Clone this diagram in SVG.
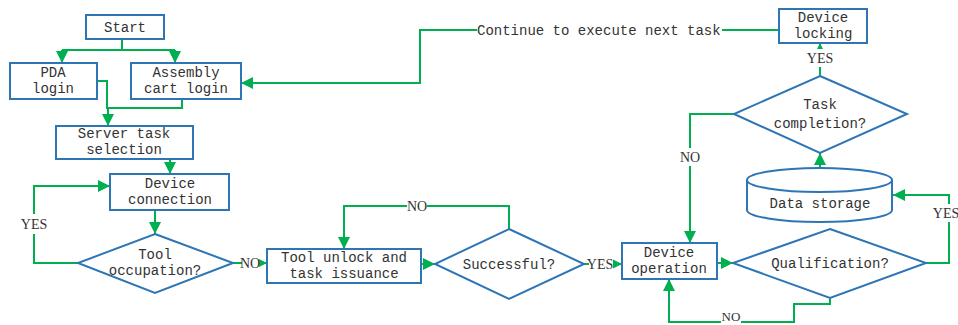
<svg xmlns="http://www.w3.org/2000/svg" width="958" height="325" viewBox="0 0 958 325">
<defs>
<marker id="ah" markerUnits="userSpaceOnUse" markerWidth="12" markerHeight="12" viewBox="0 0 10 10" refX="10" refY="5" orient="auto">
<path d="M0,0 L10,5 L0,10 z" fill="#00B050"/>
</marker>
<style>
.box{fill:#fff;stroke:#2E75B6;stroke-width:2}
.ln{fill:none;stroke:#00B050;stroke-width:2}
.arr{fill:none;stroke:#00B050;stroke-width:2;marker-end:url(#ah)}
.t{font-family:"Liberation Mono","DejaVu Sans Mono",monospace;font-size:14px;fill:#333;text-anchor:middle}
.lb{font-family:"Liberation Serif","DejaVu Serif",serif;font-size:14px;fill:#333;text-anchor:middle}
.bg{fill:#fff}
</style>
</defs>
<rect width="958" height="325" fill="#fff"/>
<g id="connectors">
<path class="ln" d="M122,39 V50 M62,50 H175"/>
<path class="arr" d="M62,50 V63"/>
<path class="arr" d="M175,50 V63"/>
<path class="ln" d="M97,81 H107 V108 H182 V99"/>
<path class="arr" d="M108,108 V126"/>
<path class="arr" d="M170,159 V174"/>
<path class="arr" d="M155,210 V234"/>
<path class="arr" d="M78,263 H34 V186 H110"/>
<path class="arr" d="M233,263 H267"/>
<path class="arr" d="M421,264 H435"/>
<path class="arr" d="M509,229 V206 H344 V249"/>
<path class="arr" d="M584,264 H622"/>
<path class="arr" d="M717,263 H733"/>
<path class="arr" d="M926,263 H949 V195 H893"/>
<path class="arr" d="M830,298 V304 H794 V322 H669 V279"/>
<path class="arr" d="M820,168 V153"/>
<path class="arr" d="M820,76 V43"/>
<path class="arr" d="M734,114 H690 V243"/>
<path class="ln" d="M779,30 H722"/>
<path class="arr" d="M477,30 H420 V83 H241"/>
<rect class="bg" x="22" y="214" width="24" height="20"/>
<text class="lb" x="34" y="229">YES</text>
<rect class="bg" x="242" y="255" width="17" height="17"/>
<text class="lb" x="250" y="268">NO</text>
<rect class="bg" x="407" y="198" width="20" height="16"/>
<text class="lb" x="417" y="211">NO</text>
<rect class="bg" x="589" y="256" width="24" height="17"/>
<text class="lb" x="600" y="269">YES</text>
<rect class="bg" x="682" y="148" width="17" height="18"/>
<text class="lb" x="690" y="162">NO</text>
<rect class="bg" x="808" y="49" width="24" height="18"/>
<text class="lb" x="820" y="63">YES</text>
<rect class="bg" x="934" y="204" width="24" height="18"/>
<text class="lb" x="946" y="218">YES</text>
<rect class="bg" x="721" y="313" width="20" height="12"/>
<text class="lb" x="731" y="321" style="font-size:13px">NO</text>
</g>
<g id="start"><rect class="box" x="86" y="15" width="78" height="24"/><text class="t" x="125" y="32">Start</text></g>
<g id="pda"><rect class="box" x="10" y="63" width="87" height="36"/><text class="t" x="53" y="77">PDA</text><text class="t" x="53" y="93">login</text></g>
<g id="assembly"><rect class="box" x="131" y="63" width="110" height="36"/><text class="t" x="186" y="77">Assembly</text><text class="t" x="186" y="93">cart login</text></g>
<g id="server"><rect class="box" x="56" y="126" width="137" height="33"/><text class="t" x="124" y="138">Server task</text><text class="t" x="124" y="154">selection</text></g>
<g id="devconn"><rect class="box" x="110" y="174" width="119" height="36"/><text class="t" x="170" y="188">Device</text><text class="t" x="170" y="204">connection</text></g>
<g id="toolocc"><path class="box" d="M155,234 L233,263 L155,293 L78,263 Z"/><text class="t" x="155" y="259">Tool</text><text class="t" x="155" y="275">occupation?</text></g>
<g id="toolunlock"><rect class="box" x="267" y="249" width="154" height="34"/><text class="t" x="344" y="262">Tool unlock and</text><text class="t" x="344" y="278">task issuance</text></g>
<g id="successful"><path class="box" d="M509,229 L584,264 L509,299 L435,264 Z"/><text class="t" x="509" y="269">Successful?</text></g>
<g id="devop"><rect class="box" x="622" y="243" width="95" height="36"/><text class="t" x="669" y="257">Device</text><text class="t" x="669" y="273">operation</text></g>
<g id="qualification"><path class="box" d="M830,229 L926,263 L830,298 L733,263 Z"/><text class="t" x="830" y="268">Qualification?</text></g>
<g id="datastorage"><path class="box" d="M747,180 V210 A72.5,12 0 0 0 892,210 V180"/><ellipse class="box" cx="819.5" cy="180" rx="72.5" ry="12"/><text class="t" x="820" y="208">Data storage</text></g>
<g id="taskcompletion"><path class="box" d="M820,76 L907,114 L820,153 L734,114 Z"/><text class="t" x="820" y="109">Task</text><text class="t" x="820" y="128">completion?</text></g>
<g id="devlock"><rect class="box" x="779" y="9" width="88" height="34"/><text class="t" x="823" y="22">Device</text><text class="t" x="823" y="38">locking</text></g>
<g id="continue"><text class="t" x="477" y="35" style="text-anchor:start">Continue to execute next task</text></g>
</svg>
